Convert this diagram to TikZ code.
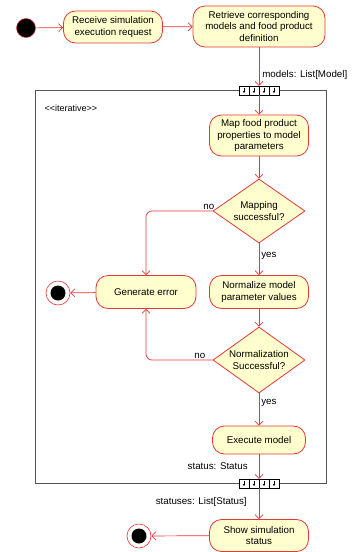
\documentclass[tikz,border=0pt]{standalone}
\usepackage{fontspec}
\setmainfont{Liberation Sans}
\usepackage{tikz}
\usetikzlibrary{arrows.meta, shapes.geometric}

\definecolor{umlred}{RGB}{228,56,56}
\definecolor{umlfill}{RGB}{254,254,206}
\definecolor{umlframe}{RGB}{85,85,85}

\tikzset{
	action/.style={draw=umlred, fill=umlfill, rounded corners=12pt, align=center, inner sep=0pt, line width=0.8pt, font=\fontsize{9.75}{11.5}\selectfont},
	decision/.style={draw=umlred, fill=umlfill, diamond, aspect=1.44, inner sep=0pt, align=center, line width=0.8pt, font=\fontsize{9.75}{11.5}\selectfont},
	flow/.style={umlred, line width=0.7pt, -{Straight Barb[length=4pt,width=8pt]}},
	guard/.style={black, font=\fontsize{9.75}{11.5}\selectfont},
	pinbox/.style={draw=black, fill=white, minimum width=40pt, minimum height=9pt, inner sep=0pt, line width=0.5pt},
	initnode/.style={circle, draw=umlred, fill=black, minimum size=19pt, inner sep=0pt, line width=0.5pt},
	finalnode/.style={circle, draw=umlred, fill=white, minimum size=24pt, inner sep=0pt, line width=0.6pt,
		path picture={\fill[black] (path picture bounding box.center) circle (7.5pt);}},
}

\begin{document}
\begin{tikzpicture}[x=1pt, y=-1pt]
	\useasboundingbox (0,0) rectangle (355,552);

	% loop frame
	\draw[umlframe, line width=0.8pt] (35,90) rectangle (326,483);
	\node[anchor=west, font=\fontsize{9}{10}\selectfont] (iterLabel) at (41,108) {<{}<iterative>{}>};

	% nodes
	\node[initnode] (start) at (26,28) {};
	\node[action, minimum width=99pt, minimum height=32pt] (recv) at (113,27) {Receive simulation\\execution request};
	\node[action, minimum width=132pt, minimum height=41pt] (retr) at (259,26.5) {Retrieve corresponding\\models and food product\\definition};
	\node[pinbox] (pinIn) at (259,90.5) {};
	\node[action, minimum width=99pt, minimum height=41pt] (map) at (259,135.5) {Map food product\\properties to model\\parameters};
	\node[decision, minimum width=92pt, minimum height=64pt] (mapOk) at (259,211) {Mapping\\successful?};
	\node[action, minimum width=100pt, minimum height=33pt] (err) at (146,292) {Generate error};
	\node[finalnode] (endErr) at (58,293) {};
	\node[action, minimum width=99pt, minimum height=33pt] (norm) at (259,292) {Normalize model\\parameter values};
	\node[decision, minimum width=92pt, minimum height=66pt] (normOk) at (259,360) {Normalization\\Successful?};
	\node[action, minimum width=93pt, minimum height=28pt] (exec) at (259,440) {Execute model};
	\node[pinbox] (pinOut) at (259,483.5) {};
	\node[action, minimum width=99pt, minimum height=32pt] (show) at (259,535.5) {Show simulation\\status};
	\node[finalnode] (endShow) at (139,536) {};

	% pins
	\foreach \p in {pinIn, pinOut} {
		\foreach \dx in {-10,0,10}
			\draw[line width=0.5pt] (\p.center) ++(\dx,-4.5) -- ++(0,9);
		\foreach \dx in {-15,-5,5,15}
			\draw[line width=0.35pt, -{Triangle[length=2pt,width=2.2pt]}] (\p.center) ++(\dx,-3) -- ++(0,5.5);
	}

	% flows
	\draw[flow] (start) -- (recv);
	\draw[flow] (recv) -- (retr);
	\draw[flow] (retr) -- node[guard, right, pos=0.72, inner sep=3pt] {models: List[Model]} (pinIn.north);
	\draw[flow] (pinIn) -- (map);
	\draw[flow] (map) -- (mapOk);
	\draw[flow, rounded corners=6pt] (mapOk.west) node[guard, above left, inner sep=1pt, xshift=3pt] {no} -| (err.north);
	\draw[flow] (mapOk) -- node[guard, right, pos=0.4, inner sep=2pt] {yes} (norm);
	\draw[flow] (norm) -- (normOk);
	\draw[flow, rounded corners=6pt] (normOk.west) node[guard, above left, inner sep=1pt, xshift=-6pt] {no} -| (err.south);
	\draw[flow] (normOk) -- node[guard, right, pos=0.3, inner sep=2pt] {yes} (exec);
	\draw[flow] (err) -- (endErr);
	\draw[flow] (exec) -- node[guard, left, pos=0.5, inner sep=11pt] {status: Status} (pinOut.north);
	\draw[flow] (pinOut) -- node[guard, left, pos=0.45, inner sep=12pt] {statuses: List[Status]} (show);
	\draw[flow] (show) -- (endShow);
\end{tikzpicture}
\end{document}
